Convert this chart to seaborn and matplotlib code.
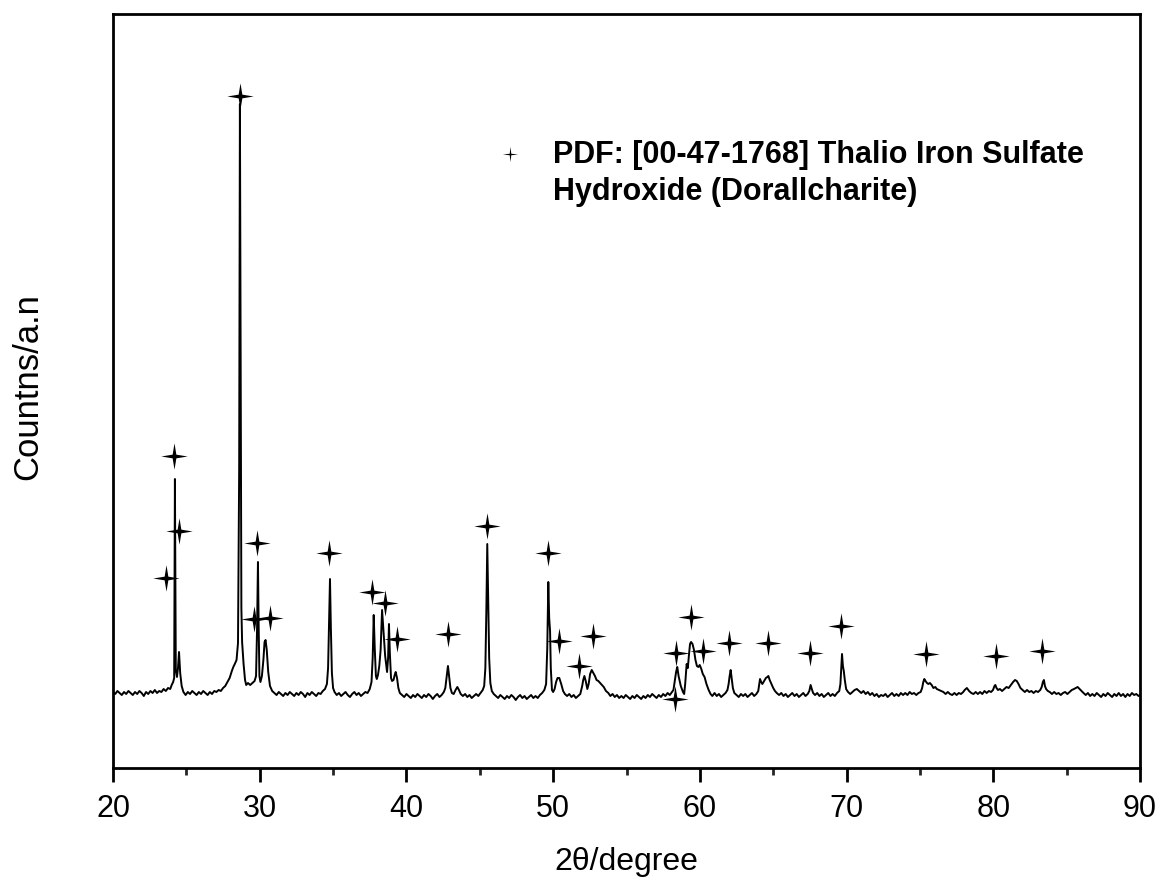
import matplotlib
matplotlib.use("Agg")
import matplotlib.pyplot as plt
import seaborn as sns
import pandas as pd
from matplotlib.path import Path
from matplotlib.ticker import MultipleLocator

# ---------------- data (2theta in degrees, intensity in arbitrary units) ----------------
seg_20_25 = [(20.0,76),(20.15,74),(20.3,77),(20.45,75),(20.6,73),(20.75,76),(20.9,74),(21.05,77),(21.2,75),
             (21.35,73),(21.5,76),(21.65,74),(21.8,77),(21.95,75),(22.1,72),(22.25,76),(22.4,74),(22.55,77),
             (22.7,75),(22.85,78),(23.0,75),(23.15,77),(23.3,76),(23.45,79),(23.6,77),(23.75,80),(23.9,79),
             (24.0,83),(24.1,86),(24.17,90),(24.22,289),(24.28,98),(24.36,91),(24.43,100),(24.5,116),
             (24.58,95),(24.68,82),(24.8,76),(24.95,73)]
seg_25_31 = [(25.1,76),(25.25,74),(25.4,77),(25.55,75),(25.7,73),(25.85,76),(26.0,74),(26.15,77),(26.3,75),
             (26.45,73),(26.6,76),(26.75,74),(26.9,77),(27.05,76),(27.2,78),(27.35,77),(27.5,80),(27.65,82),
             (27.8,86),(27.95,90),(28.1,97),(28.2,101),(28.3,104),(28.42,108),(28.52,125),(28.6,300),
             (28.65,664),(28.7,420),(28.75,160),(28.8,126),(28.9,104),(29.0,88),(29.08,83),(29.2,85),
             (29.35,83),(29.5,85),(29.65,87),(29.75,92),(29.82,140),(29.88,206),(29.93,140),(29.98,92),
             (30.05,86),(30.15,92),(30.25,108),(30.33,126),(30.4,128),(30.48,118),(30.58,96),(30.7,82),
             (30.85,77),(31.0,75)]
seg_31_39 = [(31.15,73),(31.3,76),(31.45,74),(31.6,72),(31.75,75),(31.9,73),(32.05,76),(32.2,74),(32.35,72),
             (32.5,75),(32.65,73),(32.8,76),(32.95,74),(33.1,71),(33.25,75),(33.4,73),(33.55,76),(33.7,74),
             (33.85,72),(34.0,75),(34.15,74),(34.3,77),(34.45,79),(34.58,84),(34.66,100),(34.73,150),
             (34.79,189),(34.85,140),(34.92,95),(35.0,80),(35.1,76),(35.25,73),(35.4,75),(35.55,72),(35.7,74),
             (35.85,76),(36.0,73),(36.15,71),(36.3,74),(36.45,76),(36.6,73),(36.75,75),(36.9,72),(37.05,74),
             (37.2,76),(37.35,75),(37.5,79),(37.62,86),(37.7,110),(37.77,153),(37.84,120),(37.92,92),
             (37.98,89),(38.06,93),(38.15,102),(38.24,118),(38.34,158),(38.42,140),(38.55,112),(38.68,96),
             (38.75,110),(38.81,144),(38.87,115),(38.95,90),(39.02,87),(39.12,88),(39.2,93),(39.27,96),
             (39.36,90),(39.45,80),(39.55,75)]
seg_39_46 = [(39.7,73),(39.85,71),(40.0,74),(40.15,72),(40.3,70),(40.45,73),(40.6,71),(40.75,74),(40.9,72),
             (41.05,70),(41.2,73),(41.35,71),(41.5,74),(41.65,72),(41.8,69),(41.95,72),(42.1,74),(42.25,71),
             (42.4,73),(42.55,76),(42.65,80),(42.75,92),(42.83,102),(42.92,90),(43.0,80),(43.1,75),(43.22,74),
             (43.35,78),(43.47,81),(43.58,78),(43.7,74),(43.85,72),(44.0,74),(44.15,71),(44.3,73),(44.45,70),
             (44.6,72),(44.75,74),(44.9,72),(45.05,75),(45.2,78),(45.3,82),(45.38,100),(45.45,160),
             (45.51,224),(45.57,170),(45.64,110),(45.72,85),(45.82,77),(45.95,74)]
seg_46_54 = [(46.1,72),(46.25,70),(46.4,73),(46.55,71),(46.7,69),(46.85,72),(47.0,70),(47.15,73),(47.3,71),
             (47.45,68),(47.6,71),(47.75,73),(47.9,70),(48.05,72),(48.2,69),(48.35,71),(48.5,73),(48.65,70),
             (48.8,72),(48.95,70),(49.1,73),(49.25,75),(49.4,78),(49.52,84),(49.6,120),(49.67,186),
             (49.73,150),(49.79,137),(49.84,100),(49.92,78),(50.0,76),(50.1,79),(50.2,86),(50.3,90),
             (50.42,90),(50.55,84),(50.68,77),(50.8,74),(50.95,72),(51.1,74),(51.25,71),(51.4,73),(51.55,70),
             (51.7,72),(51.85,74),(51.98,82),(52.05,88),(52.13,92),(52.22,87),(52.33,79),(52.42,84),
             (52.52,94),(52.63,98),(52.74,95),(52.85,92),(52.96,88),(53.08,87),(53.2,85),(53.32,83),
             (53.45,81),(53.6,77),(53.76,75),(53.9,72)]
seg_54_62 = [(54.05,74),(54.2,71),(54.35,73),(54.5,70),(54.65,72),(54.8,70),(54.95,73),(55.1,71),(55.25,69),
             (55.4,72),(55.55,70),(55.7,73),(55.85,71),(56.0,69),(56.15,72),(56.3,70),(56.45,73),(56.6,71),
             (56.75,74),(56.9,72),(57.05,70),(57.2,73),(57.35,71),(57.5,74),(57.65,72),(57.8,75),(57.95,73),
             (58.1,76),(58.2,78),(58.3,88),(58.38,96),(58.46,101),(58.55,92),(58.7,82),(58.85,76),(58.93,74),
             (59.0,84),(59.1,104),(59.18,100),(59.25,112),(59.33,124),(59.4,126),(59.5,124),(59.6,118),
             (59.7,108),(59.8,102),(59.9,101),(59.99,103),(60.1,99),(60.2,94),(60.32,91),(60.45,84),
             (60.6,78),(60.73,74),(60.85,72),(61.0,75),(61.15,72),(61.3,74),(61.45,71),(61.6,73),(61.75,75),
             (61.88,78),(61.96,84),(62.03,92),(62.1,98),(62.17,90),(62.25,80),(62.35,75)]
seg_62_70 = [(62.5,73),(62.65,71),(62.8,74),(62.95,72),(63.1,74),(63.25,71),(63.4,73),(63.55,75),(63.7,72),
             (63.85,74),(63.98,77),(64.05,84),(64.1,89),(64.18,86),(64.26,84),(64.38,87),(64.5,90),(64.6,91),
             (64.67,92),(64.76,88),(64.88,84),(65.0,80),(65.12,77),(65.24,75),(65.4,73),(65.55,75),(65.7,72),
             (65.85,74),(66.0,71),(66.15,73),(66.3,75),(66.45,72),(66.6,74),(66.75,71),(66.9,73),(67.05,75),
             (67.2,72),(67.35,74),(67.46,77),(67.55,83),(67.63,79),(67.72,75),(67.85,73),(68.0,75),(68.15,72),
             (68.3,74),(68.45,71),(68.6,73),(68.75,75),(68.9,72),(69.05,74),(69.2,72),(69.35,75),(69.5,77),
             (69.58,84),(69.64,100),(69.69,114),(69.75,102),(69.81,97),(69.88,88),(69.97,79),(70.1,76),
             (70.25,74)]
seg_70_80 = [(70.4,76),(70.55,78),(70.7,79),(70.85,77),(71.0,75),(71.15,77),(71.3,74),(71.45,76),(71.6,73),
             (71.75,75),(71.9,72),(72.05,74),(72.2,71),(72.35,73),(72.5,72),(72.65,74),(72.8,71),(72.95,73),
             (73.1,75),(73.25,72),(73.4,74),(73.55,72),(73.7,75),(73.85,73),(74.0,75),(74.15,73),(74.3,76),
             (74.45,74),(74.6,75),(74.75,73),(74.9,75),(75.05,76),(75.15,80),(75.23,86),(75.3,89),(75.38,87),
             (75.48,85),(75.57,84),(75.68,85),(75.8,83),(75.92,80),(76.05,81),(76.15,79),(76.3,78),(76.45,77),
             (76.6,76),(76.75,74),(76.9,76),(77.05,74),(77.2,73),(77.35,75),(77.5,73),(77.65,75),(77.8,74),
             (77.95,76),(78.05,78),(78.2,80),(78.35,77),(78.5,75),(78.65,74),(78.8,76),(78.95,74),(79.1,76),
             (79.25,74),(79.4,77),(79.55,75),(79.7,77),(79.85,76),(79.98,78)]
seg_80_90 = [(80.08,82),(80.14,83),(80.22,80),(80.32,78),(80.45,79),(80.6,77),(80.75,79),(80.9,81),(81.05,80),
             (81.2,83),(81.35,86),(81.48,88),(81.6,87),(81.72,84),(81.85,80),(82.0,78),(82.15,76),(82.3,78),
             (82.45,76),(82.6,77),(82.75,75),(82.9,77),(83.05,76),(83.2,78),(83.3,81),(83.38,86),(83.45,88),
             (83.52,82),(83.6,79),(83.72,77),(83.85,76),(84.0,74),(84.15,76),(84.3,74),(84.45,75),(84.6,73),
             (84.75,75),(84.9,76),(85.05,74),(85.2,76),(85.35,78),(85.5,79),(85.62,80),(85.75,81),(85.88,79),
             (86.0,77),(86.15,75),(86.3,73),(86.45,75),(86.6,72),(86.75,74),(86.9,72),(87.05,75),(87.2,73),
             (87.35,71),(87.5,74),(87.65,72),(87.8,75),(87.95,73),(88.1,71),(88.25,74),(88.4,72),(88.55,75),
             (88.7,72),(88.85,74),(89.0,71),(89.15,74),(89.3,72),(89.45,75),(89.6,73),(89.75,74),(89.9,72),
             (90.0,73)]

# PDF 00-47-1768 reference markers (2theta, height)
star_x = [23.61, 24.16, 24.50, 28.66, 29.79, 29.61, 30.70, 34.72, 37.65, 38.54, 39.34, 42.81, 45.47, 49.67,
          50.38, 51.78, 52.70, 58.37, 58.31, 59.40, 60.22, 61.99, 64.65, 67.51, 69.60, 75.39, 80.17, 83.32]
star_y = [190, 312, 237, 672, 225, 149, 150, 215, 176, 165, 129, 134, 242, 215,
          127, 102, 132, 115, 69, 151, 117, 125, 125, 115, 142, 114, 112, 117]

x_ticks = [20, 30, 40, 50, 60, 70, 80, 90]
legend_line1 = "PDF: [00-47-1768] Thalio Iron Sulfate"
legend_line2 = "Hydroxide (Dorallcharite)"
x_label = "2\u03b8/degree"
y_label = "Countns/a.n"

# ---------------- build frame ----------------
points = seg_20_25 + seg_25_31 + seg_31_39 + seg_39_46 + seg_46_54 + seg_54_62 + seg_62_70 + seg_70_80 + seg_80_90
df = pd.DataFrame(points, columns=["two_theta", "counts"])
stars = pd.DataFrame({"two_theta": star_x, "counts": star_y})

sns.set_theme(style="white")
plt.rcParams["font.family"] = ["Liberation Sans", "DejaVu Sans"]

fig = plt.figure(figsize=(11.57, 8.79), dpi=100)
ax = fig.add_axes([113/1157, 110/879, 1027/1157, 754/879])

sns.lineplot(data=df, x="two_theta", y="counts", ax=ax, color="black", linewidth=1.4,
             estimator=None, sort=False)

# four-pointed star marker
s = 0.14
star_path = Path([(0, 1), (s, s), (1, 0), (s, -s), (0, -1), (-s, -s), (-1, 0), (-s, s), (0, 1)],
                 [Path.MOVETO] + [Path.LINETO] * 7 + [Path.CLOSEPOLY])
ax.plot(stars["two_theta"], stars["counts"], linestyle="none", marker=star_path,
        markersize=19, color="black", markeredgewidth=0)

ax.set_xlim(20, 90)
ax.set_ylim(0, 754)
ax.set_yticks([])
ax.set_xticks(x_ticks)
ax.xaxis.set_minor_locator(MultipleLocator(5))
ax.tick_params(axis="x", which="major", direction="out", length=10, width=2, pad=8,
               labelsize=22, colors="black", bottom=True, top=False)
ax.tick_params(axis="x", which="minor", direction="out", length=5, width=2, bottom=True, top=False)
for sp in ax.spines.values():
    sp.set_visible(True)
    sp.set_color("black")
    sp.set_linewidth(2)

xl = ax.set_xlabel(x_label, fontsize=23, color="black")
yl = ax.set_ylabel(y_label, fontsize=25, color="black")
ax.xaxis.set_label_coords(0.5, (769-870)/754)
xl.set_va("baseline")
ax.yaxis.set_label_coords((28-113)/1027, (769-387)/754)
yl.set_va("center")

# legend
s2 = 0.1
leg_path = Path([(0, 1), (s2, s2), (1, 0), (s2, -s2), (0, -1), (-s2, -s2), (-1, 0), (-s2, s2), (0, 1)],
                [Path.MOVETO] + [Path.LINETO] * 7 + [Path.CLOSEPOLY])
ax.plot([(510-113)/1027], [(769-155)/754], transform=ax.transAxes, marker=leg_path,
        markersize=11, color="black", linestyle="none", markeredgewidth=0)
ax.text((553-113)/1027, (769-163)/754, legend_line1, transform=ax.transAxes, fontsize=22,
        fontweight="bold", va="baseline", ha="left", color="black")
ax.text((553-113)/1027, (769-200)/754, legend_line2, transform=ax.transAxes, fontsize=22,
        fontweight="bold", va="baseline", ha="left", color="black")

fig.savefig("out.png", dpi=100)
